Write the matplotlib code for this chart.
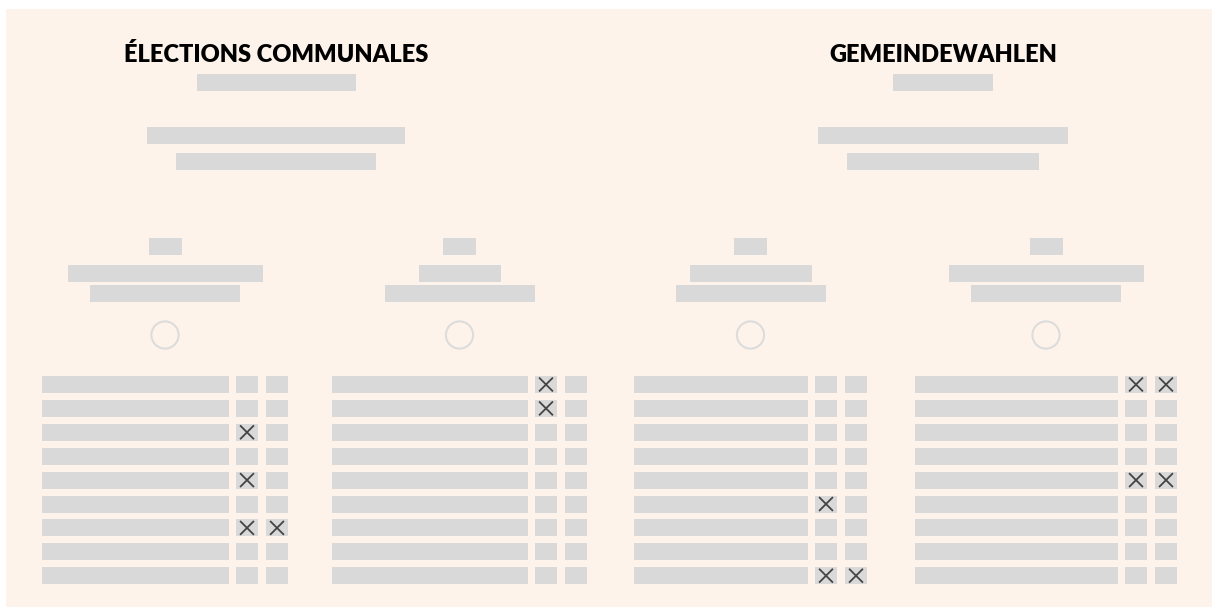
"""Two sample ballots per election, drawn as grey placeholder blocks"""

import matplotlib.pyplot as plt
from matplotlib.patches import Rectangle, Circle

###Adjustments
fig_size = (12.12, 6.07)
dpi = 100
bg_color = '#fdf3ea'
block_color = '#d9d9d9'
ring_color = '#dcdcdc'
cross_color = '#444444'
title_font = ['Lato', 'DejaVu Sans']
###Adjustments end

# election headings
titles = ["ÉLECTIONS COMMUNALES", "GEMEINDEWAHLEN"]
title_centers = [276, 943]
# widths of the placeholder lines under each heading
title_sub_widths = [[159, 258, 200], [100, 250, 192]]

# four ballots: centre, header line widths, label width
ballot_centers = [165, 459.5, 750.5, 1046]
ballot_head_widths = [[33, 195, 150], [33, 82, 150], [33, 122, 150], [33, 195, 150]]
ballot_label_widths = [187, 196, 174, 203]

# crosses per ballot: one row per candidate, [first box, second box]
ballot_votes = [
    [[0, 0], [0, 0], [1, 0], [0, 0], [1, 0], [0, 0], [1, 1], [0, 0], [0, 0]],
    [[1, 0], [1, 0], [0, 0], [0, 0], [0, 0], [0, 0], [0, 0], [0, 0], [0, 0]],
    [[0, 0], [0, 0], [0, 0], [0, 0], [0, 0], [1, 0], [0, 0], [0, 0], [1, 1]],
    [[1, 1], [0, 0], [0, 0], [0, 0], [1, 1], [0, 0], [0, 0], [0, 0], [0, 0]],
]


def block(ax, x0, y0, w, h=17):
    ax.add_patch(Rectangle((x0, y0), w, h, facecolor=block_color,
                           edgecolor='none'))


def cross(ax, xc, yc, s=6.3):
    ax.plot([xc - s, xc + s], [yc - s, yc + s], color=cross_color, lw=1.3)
    ax.plot([xc - s, xc + s], [yc + s, yc - s], color=cross_color, lw=1.3)


fig = plt.figure(figsize=fig_size, dpi=dpi, facecolor='white')
ax = fig.add_axes([0, 0, 1, 1])
ax.set_xlim(0, 1212)
ax.set_ylim(607, 0)
ax.axis('off')

ax.add_patch(Rectangle((6, 9), 1206, 598, facecolor=bg_color, edgecolor='none'))

# headings
for title, xc, widths in zip(titles, title_centers, title_sub_widths):
    ax.text(xc, 62, title, ha='center', va='baseline', fontsize=17,
            fontweight='heavy', family=title_font, color='black')
    block(ax, xc - widths[0] / 2, 74, widths[0])
    block(ax, xc - widths[1] / 2, 127, widths[1])
    block(ax, xc - widths[2] / 2, 153, widths[2])

# ballots
box_w = 22
box_gap = 7
for xc, heads, label_w, votes in zip(ballot_centers, ballot_head_widths,
                                     ballot_label_widths, ballot_votes):
    for y0, w in zip([238, 265, 285], heads):
        block(ax, xc - w / 2, y0, w)
    ax.add_patch(Circle((xc, 335), 13.6, facecolor=bg_color,
                        edgecolor=ring_color, lw=1.5))

    total = label_w + 2 * box_gap + 2 * box_w + 1
    left = xc - total / 2
    box_x = [left + label_w + box_gap, left + label_w + 2 * box_gap + box_w + 1]
    for i, row in enumerate(votes):
        y0 = 376 + i * 23.9
        block(ax, left, y0, label_w)
        for bx, marked in zip(box_x, row):
            block(ax, bx, y0, box_w)
            if marked:
                cross(ax, bx + box_w / 2, y0 + 8.5)

fig.savefig('out.png', dpi=dpi, facecolor=fig.get_facecolor())
plt.close()
